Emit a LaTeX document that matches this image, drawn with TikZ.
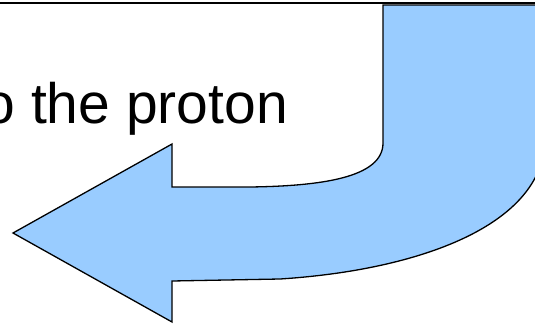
\documentclass[tikz,border=0pt]{standalone}
\usepackage{fontspec}
\setmainfont{Liberation Sans}
\definecolor{arrowblue}{HTML}{99CCFF}
\begin{document}
\begin{tikzpicture}[x=1pt,y=-1pt]
\useasboundingbox (0,0) rectangle (535,324);
\clip (0,0) rectangle (535,324);
\draw[line width=2pt] (0,2.5) -- (535,2.5);
\node[anchor=base east, font=\fontsize{57}{64}\selectfont, inner sep=0pt] (txt) at (288,123) {o the proton};
\draw[fill=arrowblue, line width=1.3pt, line join=miter]
  (383,5) -- (383,143)
  .. controls (383,178) and (320,186) .. (250,187)
  -- (172,187) -- (172,144) -- (13,233) -- (172,322) -- (172,281)
  -- (280,279)
  .. controls (420,270) and (543,225) .. (545,140)
  -- (545,5) -- cycle;
\end{tikzpicture}
\end{document}
